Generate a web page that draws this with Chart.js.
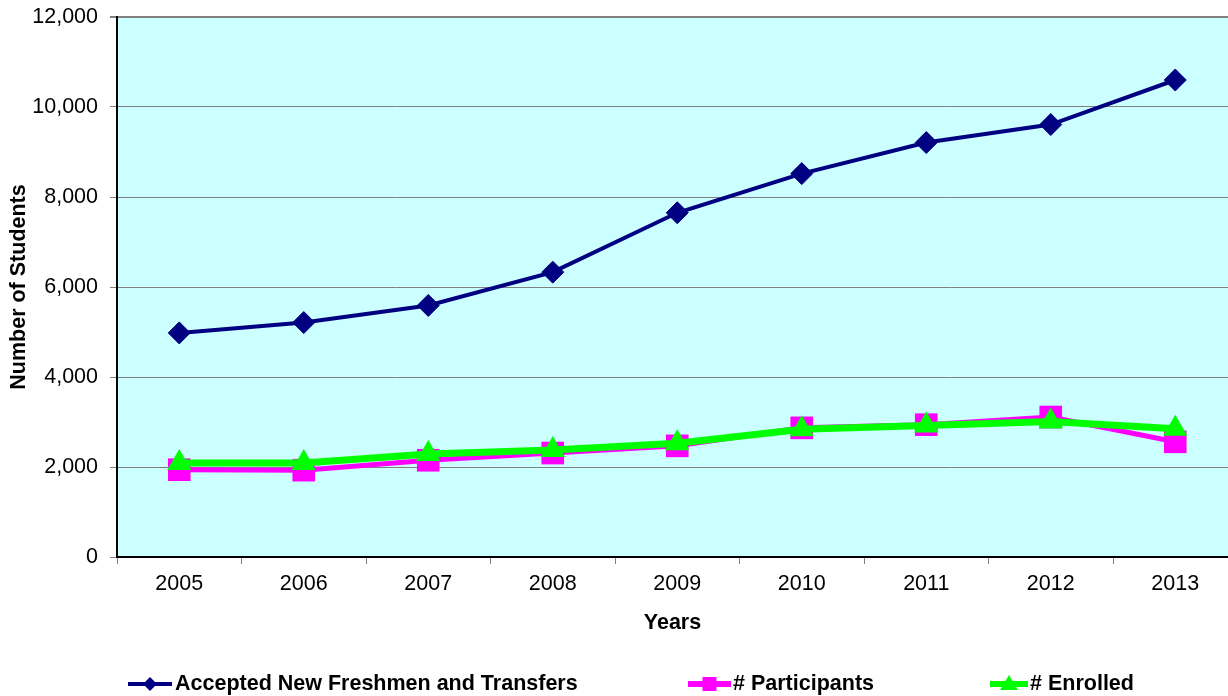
<!DOCTYPE html>
<html>
<head>
<meta charset="utf-8">
<script src="https://cdn.jsdelivr.net/npm/chart.js@4"></script>
<style>
  html, body { margin: 0; padding: 0; background: #fff; overflow: hidden; }
  #wrap { width: 1228px; height: 696px; }
  canvas { display: block; }
</style>
</head>
<body>
<div id="wrap"><canvas id="chart" width="1228" height="696"></canvas></div>
<script>
const years = [2005, 2006, 2007, 2008, 2009, 2010, 2011, 2012, 2013];
const accepted = [4980, 5210, 5590, 6330, 7650, 8520, 9210, 9610, 10600];
const participants = [1940, 1930, 2150, 2310, 2470, 2870, 2940, 3110, 2560];
const enrolled = [2090, 2090, 2290, 2380, 2530, 2840, 2920, 3010, 2850];
const yTicks = [0, 2000, 4000, 6000, 8000, 10000, 12000];
const seriesNames = ['Accepted New Freshmen and Transfers', '# Participants', '# Enrolled'];

const navy = '#000080';
const magenta = '#FF00FF';
const green = '#00FF00';
const gridGray = '#808080';

Chart.defaults.font.family = '"Liberation Sans", Arial, sans-serif';
Chart.defaults.font.size = 21.5;
Chart.defaults.color = '#000';

function points(values) {
  return values.map((v, i) => ({ x: years[i], y: v }));
}

// light cyan plot area
const plotBg = {
  id: 'plotBg',
  beforeDraw(chart) {
    const { ctx, chartArea: a } = chart;
    ctx.save();
    ctx.fillStyle = '#fff';
    ctx.fillRect(0, 0, chart.width, chart.height);
    ctx.fillStyle = '#CCFFFF';
    ctx.fillRect(a.left, a.top, a.right - a.left, a.bottom - a.top);
    ctx.restore();
  }
};

// legend like the spreadsheet one: line + marker + bold text
const lineLegend = {
  id: 'lineLegend',
  afterDraw(chart) {
    const ctx = chart.ctx;
    const y = 684;
    const items = [
      { x0: 128, x1: 172, color: navy, width: 4, shape: 'diamond', tx: 175 },
      { x0: 688, x1: 731, color: magenta, width: 6, shape: 'square', tx: 733 },
      { x0: 990, x1: 1028, color: green, width: 6, shape: 'triangle', tx: 1030 }
    ];
    ctx.save();
    items.forEach((it, i) => {
      const cx = (it.x0 + it.x1) / 2;
      ctx.strokeStyle = it.color;
      ctx.fillStyle = it.color;
      ctx.lineWidth = it.width;
      ctx.beginPath();
      ctx.moveTo(it.x0, y);
      ctx.lineTo(it.x1, y);
      ctx.stroke();
      ctx.beginPath();
      if (it.shape === 'diamond') {
        ctx.moveTo(cx - 7, y);
        ctx.lineTo(cx, y - 7);
        ctx.lineTo(cx + 7, y);
        ctx.lineTo(cx, y + 7);
      } else if (it.shape === 'square') {
        ctx.rect(cx - 7, y - 7, 14, 14);
      } else {
        ctx.moveTo(cx, y - 9);
        ctx.lineTo(cx + 9, y + 6);
        ctx.lineTo(cx - 9, y + 6);
      }
      ctx.closePath();
      ctx.fill();
      ctx.fillStyle = '#000';
      ctx.font = 'bold 21.5px "Liberation Sans", Arial, sans-serif';
      ctx.textBaseline = 'middle';
      ctx.textAlign = 'left';
      ctx.fillText(seriesNames[i], it.tx, y);
    });
    ctx.restore();
  }
};

const ctx = document.getElementById('chart').getContext('2d');
const chart = new Chart(ctx, {
  type: 'line',
  data: {
    datasets: [{
      label: seriesNames[0],
      data: points(accepted),
      borderColor: navy,
      backgroundColor: navy,
      borderWidth: 4,
      pointStyle: 'rectRot',
      pointRadius: 11,
      pointBorderWidth: 1,
      order: 2
    },
    {
      label: seriesNames[1],
      data: points(participants),
      borderColor: magenta,
      backgroundColor: magenta,
      borderWidth: 5,
      pointStyle: 'rect',
      pointRadius: 16,
      pointBorderWidth: 0,
      order: 1
    },
    {
      label: seriesNames[2],
      data: points(enrolled),
      borderColor: green,
      backgroundColor: green,
      borderWidth: 7,
      pointStyle: 'triangle',
      pointRadius: 14,
      pointBorderWidth: 0,
      order: 0
    }]
  },
  options: {
    responsive: false,
    animation: false,
    layout: { autoPadding: false, padding: { top: 17, right: 0, bottom: 60, left: 0 } },
    plugins: {
      legend: { display: false },
      tooltip: { enabled: false }
    },
    elements: { line: { tension: 0 } },
    scales: {
      x: {
        type: 'linear',
        min: 2004.5,
        max: 2004.5 + 1111 / 124.5,
        afterBuildTicks(scale) {
          const t = [];
          years.forEach(yr => { t.push({ value: yr - 0.5 }); t.push({ value: yr }); });
          t.push({ value: years[years.length - 1] + 0.5 });
          scale.ticks = t.filter(k => k.value <= scale.max);
        },
        afterFit(scale) {
          scale.height = 79;
          scale.paddingLeft = 0;
          scale.paddingRight = 0;
        },
        ticks: {
          autoSkip: false,
          maxRotation: 0,
          padding: 7,
          callback: v => Number.isInteger(v) ? String(v) : ''
        },
        grid: {
          drawOnChartArea: false,
          tickLength: 7,
          tickColor: c => (c.tick && Number.isInteger(c.tick.value)) ? 'rgba(0,0,0,0)' : gridGray
        },
        border: { color: '#000', width: 2 },
        title: {
          display: true,
          text: 'Years',
          font: { weight: 'bold', size: 21.5 },
          padding: { top: 0, bottom: 0 }
        }
      },
      y: {
        min: 0,
        max: 12000,
        afterBuildTicks(scale) { scale.ticks = yTicks.map(v => ({ value: v })); },
        afterFit(scale) {
          scale.width = 117;
          scale.paddingTop = 0;
          scale.paddingBottom = 0;
        },
        ticks: {
          padding: 12,
          callback: v => v.toLocaleString('en-US')
        },
        grid: {
          color: gridGray,
          lineWidth: c => (c.tick && c.tick.value === 12000) ? 2 : 1,
          tickLength: 7,
          tickColor: gridGray
        },
        border: { color: '#000', width: 2 },
        title: {
          display: true,
          text: 'Number of Students',
          font: { weight: 'bold', size: 21.5 },
          padding: { top: 6, bottom: 0 }
        }
      }
    }
  },
  plugins: [plotBg, lineLegend]
});
</script>
</body>
</html>
